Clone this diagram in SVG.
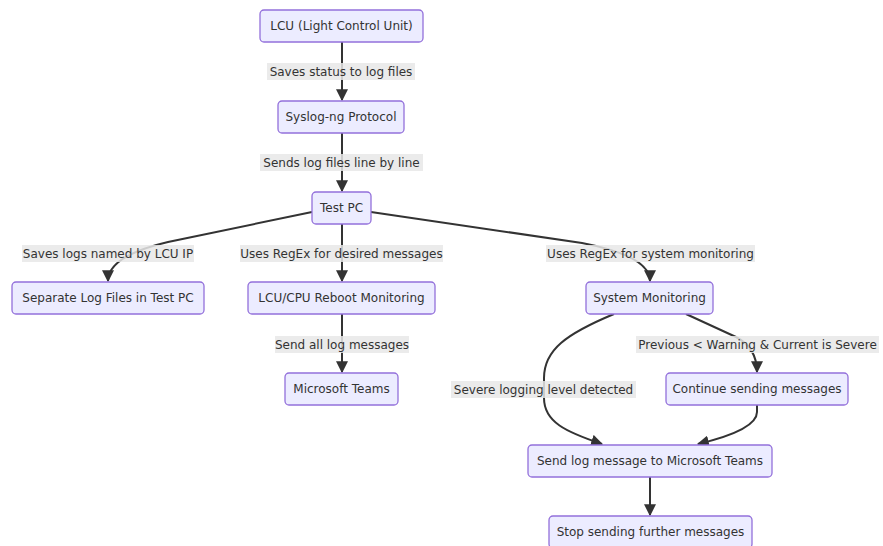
<svg xmlns="http://www.w3.org/2000/svg" width="883" height="546" viewBox="0 0 883 546">
  <style>
    .node rect { fill: #ECECFF; stroke: #9370DB; stroke-width: 1.3; }
    .node text, .label text { font-family: "Trebuchet MS", "DejaVu Sans", "Liberation Sans", sans-serif; font-size: 12px; fill: #333; text-anchor: middle; dominant-baseline: central; }
    .label rect { fill: #e8e8e8; fill-opacity: 0.85; }
    .edge { fill: none; stroke: #333; stroke-width: 2; marker-end: url(#arrow); }
  </style>
  <defs>
    <marker id="arrow" viewBox="0 0 10 10" refX="9" refY="5" markerWidth="6" markerHeight="6" markerUnits="strokeWidth" orient="auto">
      <path d="M0,0 L10,5 L0,10 z" fill="#333"/>
    </marker>
  </defs>
  <rect width="883" height="546" fill="#ffffff"/>

  <g id="connectors">
    <path class="edge" d="M342,42 L342,100"/>
    <path class="edge" d="M342,133 L342,191"/>
    <path class="edge" d="M312,212 L168,242 Q108,256 108,281"/>
    <path class="edge" d="M342,224 L342,281"/>
    <path class="edge" d="M371,212 L582,243 Q650,256 650,281"/>
    <path class="edge" d="M342,314 L342,372"/>
    <path class="edge" d="M614,314 C566,334 544,350 544,378 L544,398 C544,422 566,432 602,444"/>
    <path class="edge" d="M686,314 L736,337 Q757,348 757,372"/>
    <path class="edge" d="M757,405 L757,412 Q757,430 698,444"/>
    <path class="edge" d="M650,477 L650,515"/>
  </g>

  <g id="edge-labels">
    <g class="label"><rect x="267" y="63" width="148" height="17"/><text x="341" y="71.5">Saves status to log files</text></g>
    <g class="label"><rect x="260" y="154" width="163" height="17"/><text x="341.5" y="162.5">Sends log files line by line</text></g>
    <g class="label"><rect x="22" y="245" width="172" height="17"/><text x="108" y="253.5">Saves logs named by LCU IP</text></g>
    <g class="label"><rect x="240" y="245" width="203" height="17"/><text x="341.5" y="253.5">Uses RegEx for desired messages</text></g>
    <g class="label"><rect x="546" y="245" width="209" height="17"/><text x="650.5" y="253.5">Uses RegEx for system monitoring</text></g>
    <g class="label"><rect x="275" y="336" width="134" height="17"/><text x="342" y="344.5">Send all log messages</text></g>
    <g class="label"><rect x="451" y="381" width="185" height="17"/><text x="543.5" y="389.5">Severe logging level detected</text></g>
    <g class="label"><rect x="636" y="336" width="243" height="17"/><text x="757.5" y="344.5">Previous &lt; Warning &amp; Current is Severe</text></g>
  </g>

  <g id="lcu" class="node"><rect x="260" y="10" width="163" height="32" rx="4"/><text x="341.5" y="26">LCU (Light Control Unit)</text></g>
  <g id="syslog" class="node"><rect x="278" y="101" width="126" height="32" rx="4"/><text x="341" y="117">Syslog-ng Protocol</text></g>
  <g id="testpc" class="node"><rect x="312" y="192" width="59" height="32" rx="4"/><text x="341.5" y="208">Test PC</text></g>
  <g id="separate" class="node"><rect x="12" y="282" width="192" height="32" rx="4"/><text x="108" y="298">Separate Log Files in Test PC</text></g>
  <g id="reboot" class="node"><rect x="248" y="282" width="187" height="32" rx="4"/><text x="341.5" y="298">LCU/CPU Reboot Monitoring</text></g>
  <g id="sysmon" class="node"><rect x="586" y="282" width="127" height="32" rx="4"/><text x="649.5" y="298">System Monitoring</text></g>
  <g id="teams" class="node"><rect x="285" y="373" width="113" height="32" rx="4"/><text x="341.5" y="389">Microsoft Teams</text></g>
  <g id="continue" class="node"><rect x="666" y="373" width="182" height="32" rx="4"/><text x="757" y="389">Continue sending messages</text></g>
  <g id="sendlog" class="node"><rect x="528" y="445" width="244" height="32" rx="4"/><text x="650" y="461">Send log message to Microsoft Teams</text></g>
  <g id="stop" class="node"><rect x="549" y="516" width="203" height="32" rx="4"/><text x="650.5" y="532">Stop sending further messages</text></g>
</svg>
